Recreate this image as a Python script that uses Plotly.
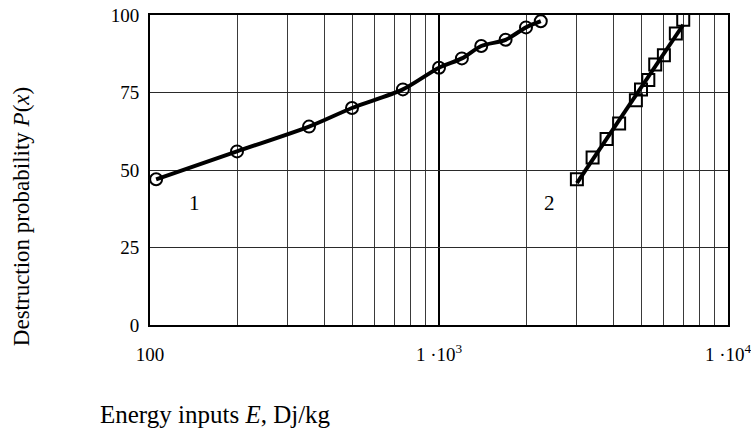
import numpy as np
import plotly.graph_objects as go

# Series 1 (circles): energy input, destruction probability
e1 = [105, 200, 355, 500, 750, 1000, 1200, 1400, 1700, 2000, 2250]
p1 = [47, 56, 64, 70, 76, 83, 86, 90, 92, 96, 98]

# Series 2 (squares)
e2 = [3000, 3400, 3800, 4200, 4800, 5000, 5300, 5600, 6000, 6600, 7000]
p2 = [47, 54, 60, 65, 72.5, 76, 79, 84, 87, 94, 98.5]

x_major = [100, 1000, 10000]
x_major_text = ["100", "1 \u00b710<sup>3</sup>", "1 \u00b710<sup>4</sup>"]
x_minor = [200, 300, 400, 500, 600, 700, 800, 900,
           2000, 3000, 4000, 5000, 6000, 7000, 8000, 9000]
y_ticks = [0, 25, 50, 75, 100]

serif = "Liberation Serif"

# straight-line fit of series 2 in log(E)
b, a = np.polyfit(np.log10(e2), p2, 1)
fit_x = [e2[0], e2[-1]]
fit_y = [a + b * np.log10(v) for v in fit_x]

fig = go.Figure()
fig.add_trace(go.Scatter(
    x=e1, y=p1, mode="lines+markers",
    line=dict(color="black", width=4, shape="spline", smoothing=0.8),
    marker=dict(symbol="circle-open", size=12, color="black",
                line=dict(width=2, color="black")),
    showlegend=False,
))
fig.add_trace(go.Scatter(
    x=fit_x, y=fit_y, mode="lines",
    line=dict(color="black", width=4), showlegend=False,
))
fig.add_trace(go.Scatter(
    x=e2, y=p2, mode="markers",
    marker=dict(symbol="square-open", size=12, color="black",
                line=dict(width=2, color="black")),
    showlegend=False,
))

fig.add_annotation(x=np.log10(143), y=39.5, text="1", showarrow=False,
                   font=dict(family=serif, size=21, color="black"))
fig.add_annotation(x=np.log10(2420), y=39.5, text="2", showarrow=False,
                   font=dict(family=serif, size=21, color="black"))

fig.add_annotation(xref="paper", yref="paper", x=0.1125, y=-0.29,
                   text="Energy inputs <i>E</i>, Dj/kg", showarrow=False,
                   xanchor="center", yanchor="middle",
                   font=dict(family=serif, size=25, color="black"))
fig.add_annotation(xref="paper", yref="paper", x=-0.222, y=0.35,
                   text="Destruction probability <i>P</i>(<i>x</i>)",
                   showarrow=False, textangle=-90,
                   xanchor="center", yanchor="middle",
                   font=dict(family=serif, size=23, color="black"))

fig.update_xaxes(
    type="log", range=[2, 4], automargin=False,
    tickmode="array", tickvals=x_major, ticktext=x_major_text,
    ticklabeloverflow="allow",
    showgrid=True, gridcolor="black", gridwidth=2,
    minor=dict(tickmode="array", tickvals=x_minor, showgrid=True,
               gridcolor="#3a3a3a", gridwidth=1.3, ticks=""),
    showline=True, linecolor="black", linewidth=2, mirror=True,
    ticks="", ticklabelstandoff=11, zeroline=False,
    tickfont=dict(family=serif, size=19, color="black"),
)
fig.update_yaxes(
    range=[0, 100], automargin=False, tickmode="array", tickvals=y_ticks,
    ticklabeloverflow="allow",
    showgrid=True, gridcolor="#2a2a2a", gridwidth=1.2,
    showline=True, linecolor="black", linewidth=2, mirror=True,
    ticks="", ticklabelstandoff=5, zeroline=False,
    tickfont=dict(family=serif, size=19, color="black"),
)

fig.update_layout(
    width=751, height=435,
    margin=dict(l=150, r=23, t=15, b=110),
    paper_bgcolor="white", plot_bgcolor="white",
)

fig.write_html("out.html")
